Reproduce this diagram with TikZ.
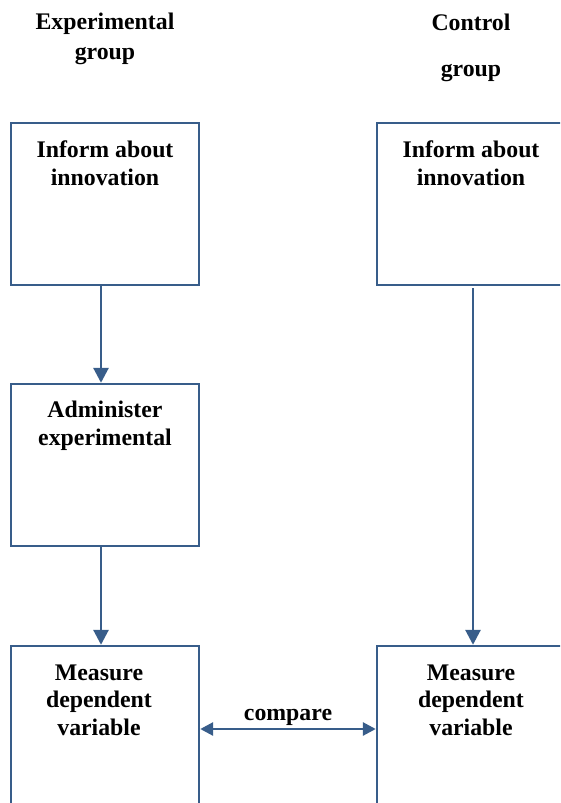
\documentclass[tikz,border=0pt]{standalone}
\usepackage{fontspec}
\setmainfont{Liberation Serif}
\usetikzlibrary{arrows.meta}
\definecolor{boxblue}{RGB}{56,93,138}
\begin{document}
\begin{tikzpicture}[x=1pt,y=1pt,
  boxnode/.style={draw=boxblue,line width=2.4pt,minimum width=188pt,minimum height=162pt,inner sep=0pt,rectangle},
  txt/.style={font=\fontsize{23.8}{27.5}\selectfont\bfseries,align=center,inner sep=0pt,anchor=base},
  conn/.style={draw=boxblue,line width=2.8pt,-{Triangle[length=15pt,width=15pt]}},
  conn2/.style={draw=boxblue,line width=2.8pt,{Triangle[length=13pt,width=13pt]}-{Triangle[length=13pt,width=13pt]}}]
\useasboundingbox (0,0) rectangle (560,-803);
\clip (0,0) rectangle (560,-803);
% headings
\node[txt] (hexp) at (105,-59) {Experimental\\[2pt]group};
\node[txt] (hctl) at (471,-76) {Control\\[18.5pt]group};
% boxes
\node[boxnode] (e1) at (105,-204) {};
\node[boxnode] (e2) at (105,-465) {};
\node[boxnode,minimum height=180pt] (e3) at (105,-736) {};
\node[boxnode] (c1) at (471,-204) {};
\node[boxnode,minimum height=180pt] (c3) at (471,-736) {};
% texts
\node[txt] (t1) at (105,-185) {Inform about\\innovation};
\node[txt] (t2) at (105,-445) {Administer\\experimental};
\node[txt] (t3) at (99,-735) {Measure\\dependent\\variable};
\node[txt] (t4) at (471,-185) {Inform about\\innovation};
\node[txt] (t5) at (471,-735) {Measure\\dependent\\variable};
% connectors
\draw[conn] ([xshift=-4pt]e1.south) -- ([xshift=-4pt]e2.north);
\draw[conn] ([xshift=-4pt]e2.south) -- ([xshift=-4pt]e3.north);
\draw[conn] ([xshift=2pt,yshift=-2pt]c1.south) -- ([xshift=2pt]c3.north);
\draw[conn2] ([yshift=7pt]e3.east) -- node[txt,anchor=base,yshift=9pt] (cmp) {compare} ([yshift=7pt]c3.west);
\end{tikzpicture}
\end{document}
